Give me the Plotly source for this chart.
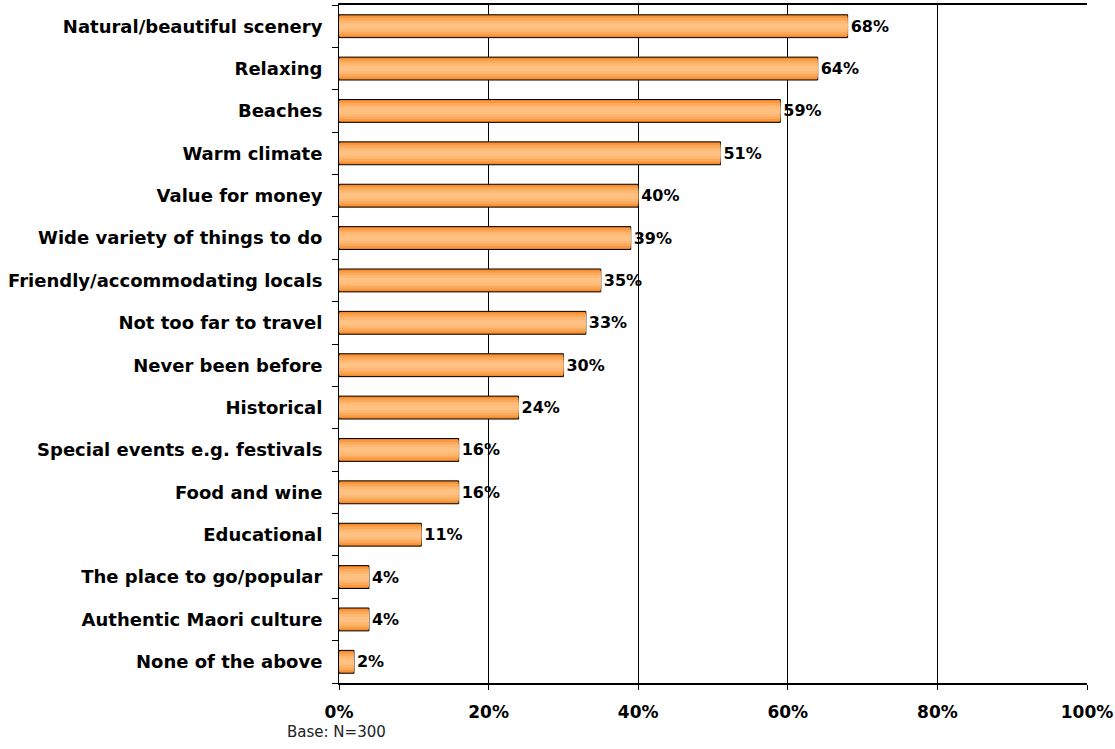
import plotly.graph_objects as go

categories = [
    "Natural/beautiful scenery", "Relaxing", "Beaches", "Warm climate",
    "Value for money", "Wide variety of things to do", "Friendly/accommodating locals",
    "Not too far to travel", "Never been before", "Historical",
    "Special events e.g. festivals", "Food and wine", "Educational",
    "The place to go/popular", "Authentic Maori culture", "None of the above",
]
values = [68, 64, 59, 51, 40, 39, 35, 33, 30, 24, 16, 16, 11, 4, 4, 2]
x_ticks = [0, 20, 40, 60, 80, 100]
x_tick_labels = ["0%", "20%", "40%", "60%", "80%", "100%"]

FONT = "DejaVu Sans"
fig = go.Figure()

# layered bars to imitate the vertical gradient
layers = [
    (0.54, "#F5821F"),
    (0.47, "#F8983F"),
    (0.38, "#FBAA5C"),
    (0.26, "#FDB973"),
    (0.13, "#FFC182"),
]
for i, (w, c) in enumerate(layers):
    fig.add_trace(go.Bar(
        y=categories, x=values, orientation="h", width=w,
        marker=dict(color=c, line=dict(color="#000000", width=1 if i == 0 else 0)),
        text=[f"{v}%" for v in values] if i == 0 else None,
        textposition="outside" if i == 0 else "none",
        textfont=dict(family=FONT, size=16, color="#000000", weight="bold"),
        cliponaxis=False, hoverinfo="skip", showlegend=False,
    ))

fig.update_layout(
    width=1115, height=749, barmode="overlay",
    margin=dict(l=339, r=28, t=5, b=66),
    paper_bgcolor="white", plot_bgcolor="white",
    font=dict(family=FONT, color="#000000"),
    xaxis=dict(
        range=[0, 100], tickvals=x_ticks, ticktext=x_tick_labels,
        showgrid=True, gridcolor="#000000", gridwidth=1,
        showline=True, linecolor="#000000", linewidth=2, mirror=True,
        ticks="outside", ticklen=5, tickcolor="#000000",
        ticklabelstandoff=8, automargin=False,
        tickfont=dict(family=FONT, size=17, color="#000000", weight="bold"),
        zeroline=False, fixedrange=True,
    ),
    yaxis=dict(
        categoryorder="array", categoryarray=categories[::-1],
        showline=True, linecolor="#000000", linewidth=1,
        ticks="outside", ticklen=6, tickcolor="#000000", tickson="boundaries",
        ticklabelstandoff=12, automargin=False,
        tickfont=dict(family=FONT, size=18, color="#000000", weight="bold"),
        showgrid=False, fixedrange=True,
    ),
)

fig.add_annotation(
    x=-0.072, y=-0.073, xref="paper", yref="paper", text="Base: N=300", showarrow=False,
    xanchor="left", yanchor="middle", font=dict(family=FONT, size=15, color="#222222"),
)
fig.write_html("out.html")
